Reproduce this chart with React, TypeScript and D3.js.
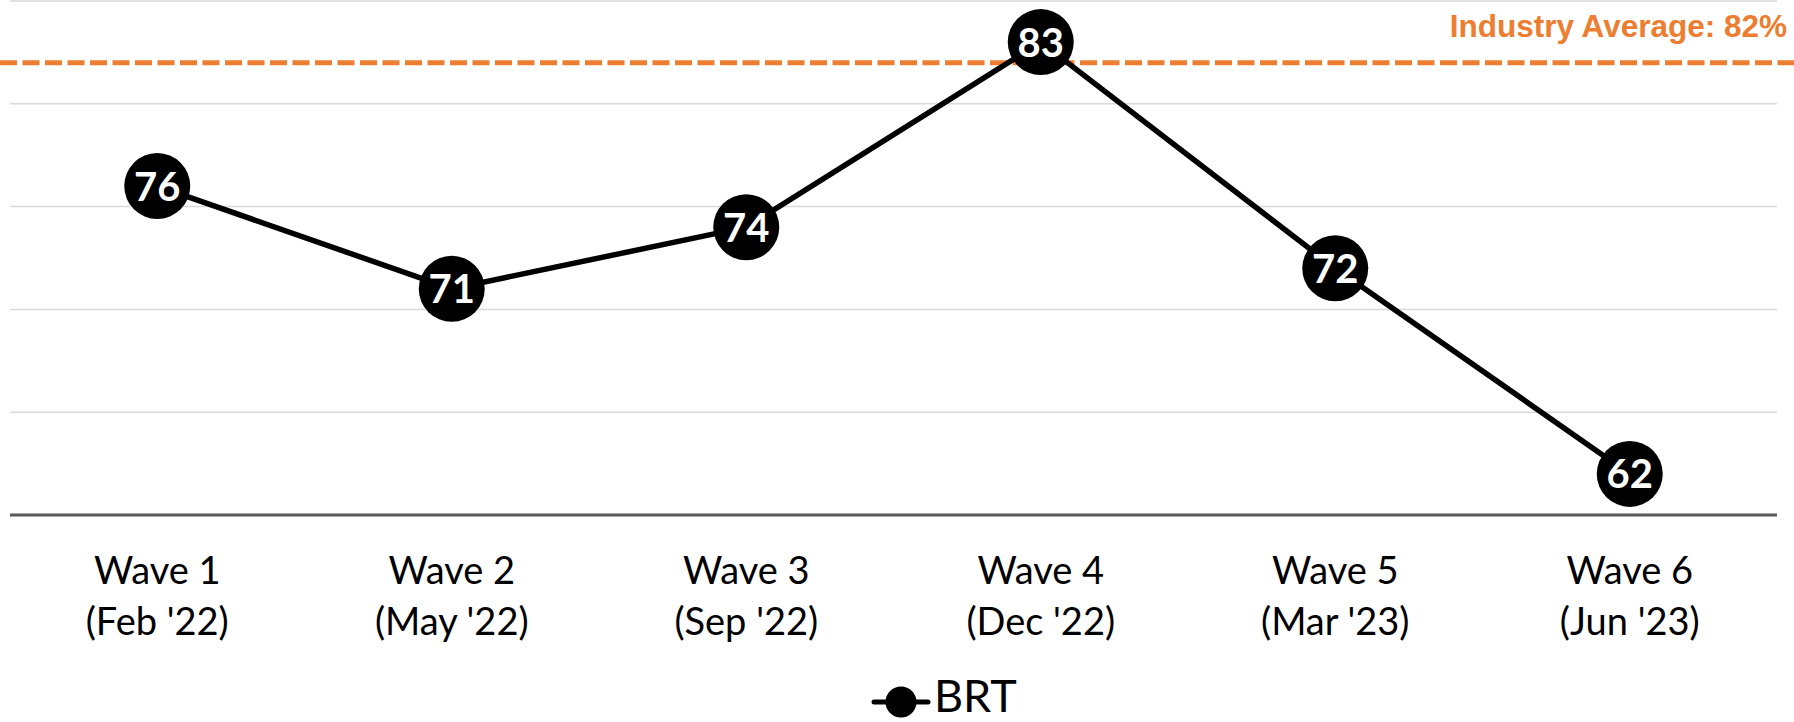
import React from "react";
import * as d3 from "d3";

// Survey waves (two-line axis labels)
const waveNames = ["Wave 1", "Wave 2", "Wave 3", "Wave 4", "Wave 5", "Wave 6"];
const waveDates = ["(Feb '22)", "(May '22)", "(Sep '22)", "(Dec '22)", "(Mar '23)", "(Jun '23)"];

// BRT score per wave
const seriesName = "BRT";
const brtValues = [76, 71, 74, 83, 72, 62];

// Benchmark
const industryAverage = 82;

// Value axis
const yDomain: [number, number] = [60, 85];
const gridValues = [65, 70, 75, 80, 85];

const W = 1794;
const H = 722;
const plotLeft = 10;
const plotRight = 1777;
const plotTop = 1;
const plotBottom = 515;

const ORANGE = "#ED7D31";
const LABEL_FONT = "Lato, 'Open Sans', sans-serif";

export default function App() {
  const x = d3
    .scalePoint<string>()
    .domain(waveNames)
    .range([plotLeft, plotRight])
    .padding(0.5);
  const y = d3.scaleLinear().domain(yDomain).range([plotBottom, plotTop]);

  const points = brtValues.map((v, i) => ({ name: waveNames[i], value: v }));
  const line = d3
    .line<{ name: string; value: number }>()
    .x((d) => x(d.name) as number)
    .y((d) => y(d.value));

  const avgY = y(industryAverage);

  return (
    <svg
      width={W}
      height={H}
      viewBox={`0 0 ${W} ${H}`}
      style={{ position: "absolute", left: 0, top: 0, background: "#fff" }}
    >
      {/* horizontal gridlines */}
      {gridValues.map((g) => (
        <line
          key={g}
          x1={plotLeft}
          x2={plotRight}
          y1={y(g)}
          y2={y(g)}
          stroke="#d9d9d9"
          strokeWidth={1.5}
        />
      ))}

      {/* category axis baseline */}
      <line
        x1={plotLeft}
        x2={plotRight}
        y1={y(yDomain[0])}
        y2={y(yDomain[0])}
        stroke="#595959"
        strokeWidth={3}
      />

      {/* industry average benchmark */}
      <line
        x1={0}
        x2={W}
        y1={avgY}
        y2={avgY}
        stroke={ORANGE}
        strokeWidth={5}
        strokeDasharray="17 5.5"
      />
      <text
        x={1787}
        y={avgY - 26}
        textAnchor="end"
        fill={ORANGE}
        fontFamily="'Liberation Sans', Arial, sans-serif"
        fontWeight="bold"
        fontSize={31.5}
      >
        {`Industry Average: ${d3.format(".0f")(industryAverage)}%`}
      </text>

      {/* series line */}
      <path
        d={line(points) ?? ""}
        fill="none"
        stroke="#000"
        strokeWidth={5.5}
        strokeLinejoin="round"
      />

      {/* markers with value labels */}
      {points.map((p) => (
        <g key={p.name} transform={`translate(${x(p.name)},${y(p.value)})`}>
          <circle r={33} fill="#000" />
          <text
            y={14.5}
            textAnchor="middle"
            fill="#fff"
            fontFamily={LABEL_FONT}
            fontWeight="bold"
            fontSize={40}
          >
            {p.value}
          </text>
        </g>
      ))}

      {/* category labels */}
      {waveNames.map((n, i) => (
        <text
          key={n}
          x={x(n)}
          textAnchor="middle"
          fill="#000"
          fontFamily={LABEL_FONT}
          fontSize={38}
        >
          <tspan x={x(n)} y={584}>
            {n}
          </tspan>
          <tspan x={x(n)} y={635}>
            {waveDates[i]}
          </tspan>
        </text>
      ))}

      {/* legend */}
      <g transform="translate(901,702)">
        <line x1={-27} x2={27} y1={0} y2={0} stroke="#000" strokeWidth={5} strokeLinecap="round" />
        <circle r={15.5} fill="#000" />
        <text
          x={33}
          y={10}
          fill="#000"
          fontFamily={LABEL_FONT}
          fontSize={45}
        >
          {seriesName}
        </text>
      </g>
    </svg>
  );
}
